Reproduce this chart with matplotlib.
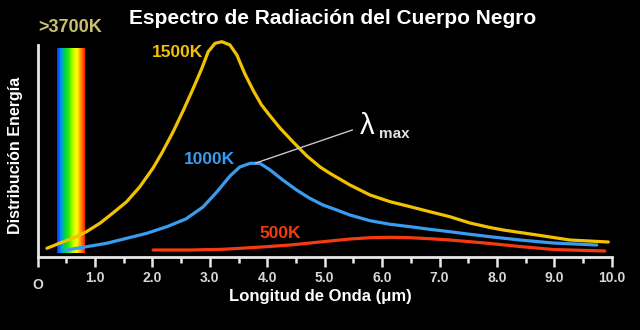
import numpy as np
import matplotlib
matplotlib.use("Agg")
import matplotlib.pyplot as plt
from matplotlib.colors import LinearSegmentedColormap

# wavelength (um) / relative energy
wl_1500 = [0.16, 0.39, 0.62, 0.85, 1.09, 1.31, 1.55, 1.78, 2.01, 2.16, 2.36, 2.54,
           2.71, 2.86, 2.97, 3.09, 3.21, 3.35, 3.47, 3.61, 3.76, 3.90, 4.05, 4.22,
           4.45, 4.69, 4.92, 5.09, 5.44, 5.79, 6.14, 6.49, 6.83, 7.18, 7.53, 7.88,
           8.11, 8.70, 9.27, 9.94]
en_1500 = [8.7, 14, 19, 25.3, 34, 44, 55.3, 70.3, 89, 103.7, 125.3, 147,
           168.7, 188.7, 205.3, 213.7, 215.3, 212, 202, 183, 166, 152, 141, 129,
           115, 101, 90, 83.7, 72, 62, 55.3, 50.3, 45.3, 40.3, 34, 29.5,
           27, 22, 17, 15]

wl_1000 = [0.50, 0.85, 1.20, 1.55, 1.90, 2.25, 2.58, 2.88, 3.12, 3.35, 3.52, 3.70,
           3.87, 4.05, 4.27, 4.51, 4.74, 4.97, 5.21, 5.44, 5.79, 6.14, 6.49, 6.83,
           7.18, 7.53, 7.88, 8.40, 8.98, 9.74]
en_1000 = [7, 10.3, 13.7, 18.7, 23.7, 30.3, 38, 50, 65, 81, 90, 93.7,
           93.7, 87, 77, 67, 58.7, 52, 47, 42, 36.3, 32.7, 30.3, 27.7,
           25.3, 22.7, 20.3, 17, 14, 12]

wl_500 = [2.01, 2.65, 3.23, 3.82, 4.40, 4.97, 5.44, 5.79, 6.14, 6.49, 6.83, 7.18,
          7.53, 7.88, 8.40, 8.98, 9.88]
en_500 = [7, 7, 7.7, 9.7, 12, 15.3, 18, 19.3, 19.7, 19.3, 18.3, 17,
          15.3, 13.5, 10.5, 7.5, 6]

visible_band = (0.34, 0.82)
peak_1000 = (3.80, 94)

x_ticks = [0, 1, 2, 3, 4, 5, 6, 7, 8, 9, 10]
x_tick_labels = ["", "1.0", "2.0", "3.0", "4.0", "5.0", "6.0", "7.0", "8.0", "9.0", "10.0"]

YELLOW = "#f2c200"
BLUE = "#3a9cf0"
RED = "#f53a10"
BOLD = dict(family="Liberation Sans", weight="bold")

fig = plt.figure(figsize=(6.4, 3.3), dpi=100, facecolor="black")
ax = fig.add_axes([0.0589, 0.2212, 0.8969, 0.6424], facecolor="black")
ax.set_xlim(0, 10)
ax.set_ylim(0, 212)

# visible spectrum strip
spectrum = LinearSegmentedColormap.from_list(
    "spectrum", ["#1030ff", "#0090ff", "#00d840", "#30f000", "#c0ff00",
                 "#ffff00", "#ff9000", "#ff1800"])
ax.imshow(np.linspace(0, 1, 256)[None, :], cmap=spectrum, aspect="auto",
          extent=[visible_band[0], visible_band[1], 4, 209], zorder=1)

line_kw = dict(lw=2.3, solid_joinstyle="round", solid_capstyle="round", zorder=3, clip_on=False)
ax.plot(wl_1500, en_1500, color=YELLOW, **line_kw)
ax.plot(wl_1000, en_1000, color=BLUE, **line_kw)
ax.plot(wl_500, en_500, color=RED, **line_kw)

ax.text(2.44, 205, "1500K", color=YELLOW, fontsize=12.5, ha="center", va="center", **BOLD)
ax.text(3.00, 98, "1000K", color=BLUE, fontsize=12.5, ha="center", va="center", **BOLD)
ax.text(4.22, 24, "500K", color=RED, fontsize=12.5, ha="center", va="center", **BOLD)
ax.text(0.56, 230, ">3700K", color="#c8c070", fontsize=13, ha="center", va="center", **BOLD)

# lambda max pointer
ax.plot([peak_1000[0], 5.48], [peak_1000[1], 127], color="#c8c8c8", lw=1.0, zorder=4)
ax.text(5.74, 131, "λ", color="white", fontsize=21, ha="center", va="center",
        family="Liberation Sans")
ax.text(6.22, 123, "max", color="#e0e0e0", fontsize=11, ha="center", va="center", **BOLD)

for side in ("top", "right"):
    ax.spines[side].set_visible(False)
for side in ("left", "bottom"):
    ax.spines[side].set_color("#e8e8e8")
    ax.spines[side].set_linewidth(2.0)

ax.set_yticks([])
ax.set_xticks(x_ticks)
ax.set_xticklabels(x_tick_labels)
ax.set_xticks(np.arange(0.5, 10, 1.0), minor=True)
ax.tick_params(axis="x", which="major", direction="out", length=7, width=1.8,
               color="#e8e8e8", labelcolor="#d8d8d8", labelsize=10, pad=3)
ax.tick_params(axis="x", which="minor", direction="out", length=4, width=1.8, color="#e8e8e8")
for lbl in ax.get_xticklabels():
    lbl.set_fontfamily("Liberation Sans")
    lbl.set_fontweight("bold")

ax.text(0, -28, "O", color="#d8d8d8", fontsize=10, ha="center", va="center", **BOLD)

fig.text(0.52, 0.945, "Espectro de Radiación del Cuerpo Negro", color="white",
         fontsize=15, ha="center", va="center", **BOLD)
fig.text(0.5, 0.10, "Longitud de Onda (μm)", color="white", fontsize=12,
         ha="center", va="center", **BOLD)
fig.text(0.024, 0.53, "Distribución Energía", color="white", fontsize=11.5,
         ha="center", va="center", rotation=90, **BOLD)

fig.savefig("out.png", dpi=100, facecolor="black")
